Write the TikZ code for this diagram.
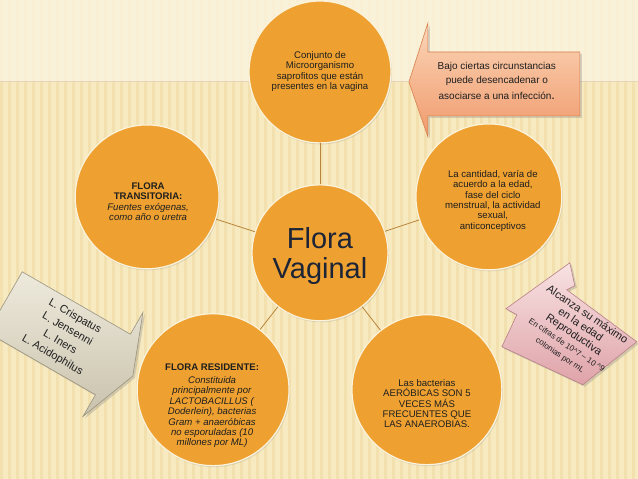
\documentclass[tikz,border=0pt]{standalone}
\usepackage{fontspec}
\setmainfont{Liberation Sans}
\usetikzlibrary{shadows,calc}
\definecolor{paper}{HTML}{F7EAC1}
\definecolor{stripe}{HTML}{F2E1AF}
\definecolor{paperlight}{HTML}{FBF6E4}
\definecolor{disc}{HTML}{EEA131}
\definecolor{rim}{HTML}{FCF3DC}
\definecolor{twig}{HTML}{B7843A}
\definecolor{ink}{HTML}{1E1E1E}
\definecolor{navyink}{HTML}{1C2436}
\definecolor{salmontop}{HTML}{FBD6B8}
\definecolor{salmonbot}{HTML}{F09A6C}
\definecolor{salmonrim}{HTML}{D7804F}
\definecolor{stonetop}{HTML}{EEEADC}
\definecolor{stonebot}{HTML}{C9C2AD}
\definecolor{stonerim}{HTML}{9A937F}
\definecolor{rosetop}{HTML}{F8E2E2}
\definecolor{rosebot}{HTML}{DFA3A9}
\definecolor{roserim}{HTML}{B88088}
\tikzset{
  bubble/.style={circle, fill=disc, draw=rim, line width=1.2pt, inner sep=0pt,
                 drop shadow={opacity=0.2, shadow xshift=1pt, shadow yshift=-1.5pt}},
  txt/.style={align=center, font=\fontsize{9.6}{10.4}\selectfont, text=ink},
  twiglink/.style={draw=twig, line width=0.8pt},
  salmoncall/.style={draw=salmonrim, line width=0.6pt, top color=salmontop, bottom color=salmonbot,
                     drop shadow={opacity=0.3, shadow xshift=2pt, shadow yshift=-2pt}},
  stonecall/.style={draw=stonerim, line width=0.6pt, top color=stonetop, bottom color=stonebot,
                    drop shadow={opacity=0.3, shadow xshift=2pt, shadow yshift=-2pt}},
  rosecall/.style={draw=roserim, line width=0.6pt, top color=rosetop, bottom color=rosebot,
                   drop shadow={opacity=0.3, shadow xshift=2pt, shadow yshift=-2pt}},
}
\begin{document}
\begin{tikzpicture}[x=1pt, y=-1pt]
% background
\fill[paper] (0,0) rectangle (638,479);
\foreach \sx in {0,8,...,632}
  \fill[stripe] (\sx,0) rectangle ++(3,479);
\fill[paperlight, opacity=0.7] (0,0) rectangle (638,81);
\draw[twig!35, line width=0.5pt] (0,81) -- (638,81);
\useasboundingbox (0,0) rectangle (638,479);

% circles
\node[bubble, minimum size=136pt] (core) at (320,253) {};
\node[bubble, minimum size=142pt] (top) at (320,72) {};
\node[bubble, minimum size=146pt] (upright) at (489,197) {};
\node[bubble, minimum size=144pt] (upleft) at (147,197) {};
\node[bubble, minimum size=152pt] (lowleft) at (213,390) {};
\node[bubble, minimum size=150pt] (lowright) at (427,390) {};

\foreach \n in {top,upright,upleft,lowleft,lowright}
  \draw[twiglink] (core) -- (\n);

% texts
\node[align=center, text=navyink, font=\fontsize{29}{30}\selectfont] at (320,256) {Flora\\Vaginal};
\node[txt] at (320,71.5) {Conjunto de\\Microorganismo\\saprofitos que están\\presentes en la vagina};
\node[txt] at (493,201) {La cantidad, varía de\\acuerdo a la edad,\\fase del ciclo\\menstrual, la actividad\\sexual,\\anticonceptivos};
\node[txt] at (148,202) {\textbf{FLORA}\\\textbf{TRANSITORIA:}\\\textit{Fuentes exógenas,}\\\textit{como año o uretra}};
\node[txt] at (212,406) {\textbf{FLORA RESIDENTE:}\\[3pt]\textit{Constituida}\\\textit{principalmente por}\\\textit{LACTOBACILLUS (}\\\textit{Doderlein), bacterias}\\\textit{Gram + anaeróbicas}\\\textit{no esporuladas (10}\\\textit{millones por ML)}};
\node[txt] at (427,404) {Las bacterias\\AERÓBICAS SON 5\\VECES MÁS\\FRECUENTES QUE\\LAS ANAEROBIAS.};

% callout top right
\path[salmoncall] (580,52) -- (428,52) -- (428,23) -- (409,82) -- (428,137) -- (428,116) -- (580,116) -- cycle;
\node[align=center, text=ink, font=\fontsize{10}{14}\selectfont] (warn) at (497,81)
  {Bajo ciertas circunstancias\\puede desencadenar o\\[2pt]asociarse a una infección{\fontsize{13}{13}\selectfont.}};

% callout left
\begin{scope}[shift={(22,272)}, rotate=-30]
\path[stonecall] (0,0) -- (125,0) -- (125,-25) -- (148,35) -- (125,95) -- (125,70) -- (0,70) -- cycle;
\node[rotate=-30, align=center, text=ink, font=\fontsize{11}{15}\selectfont] (species) at (68,35)
  {L. Crispatus\\L. Jensenni\\L. Iners\\L. Acidophilus};
\end{scope}

% callout right
\path[rosecall] (502,347) -- (517,315) -- (506,309) -- (570,263) -- (575,286) -- (567,290)
  -- (637,342) -- (583,385) -- cycle;
\node[rotate=-34, align=center, text=ink, font=\fontsize{11}{12}\selectfont] (peak) at (574,335)
  {Alcanza su máximo\\en la edad\\Reproductiva\\{\fontsize{8}{9}\selectfont En cifras de 10\^{}7 -- 10 \^{}9}\\{\fontsize{8}{9}\selectfont colonias por mL}};
\end{tikzpicture}
\end{document}
